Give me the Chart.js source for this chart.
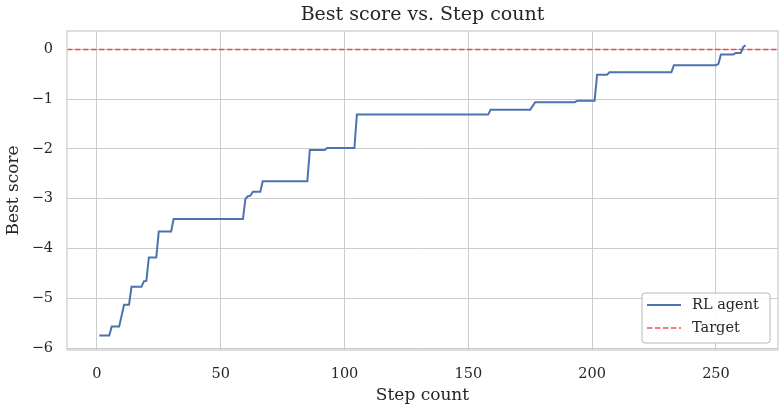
<!DOCTYPE html>
<html>
<head>
<meta charset="utf-8">
<script src="https://cdn.jsdelivr.net/npm/chart.js@4.4.1/dist/chart.umd.min.js"></script>
<style>
  html, body { margin: 0; padding: 0; background: #fff; }
  #wrap { width: 784px; height: 411px; }
</style>
</head>
<body>
<div id="wrap"><canvas id="mainChart" width="784" height="411"></canvas></div>
<script>
// vertices of the best-score curve (step, score)
const steps = [1, 5, 6, 9, 11, 13, 14, 18, 19, 20, 21, 24, 25, 30, 31, 59, 60, 61, 62, 63, 66, 67, 85, 86, 92, 93, 104, 105, 158, 159, 175, 177, 193, 194, 201, 202, 206, 207, 232, 233, 250, 251, 252, 257, 258, 260, 261, 262];
const scores = [-5.75, -5.75, -5.57, -5.57, -5.13, -5.13, -4.77, -4.77, -4.66, -4.65, -4.18, -4.18, -3.66, -3.66, -3.41, -3.41, -3.0, -2.95, -2.94, -2.86, -2.86, -2.65, -2.65, -2.02, -2.02, -1.98, -1.98, -1.31, -1.31, -1.21, -1.21, -1.06, -1.06, -1.03, -1.03, -0.51, -0.51, -0.46, -0.46, -0.32, -0.32, -0.29, -0.1, -0.1, -0.07, -0.07, 0.05, 0.08];
const targetScore = 0;

const xTicks = [0, 50, 100, 150, 200, 250];
const yTicks = [-6, -5, -4, -3, -2, -1, 0];
const xRange = [-12.05, 275.05];
const yRange = [-6.04, 0.37];

const FONT = "'DejaVu Serif', 'Liberation Serif', serif";
const TEXT = "#262626";
const GRID = "#cccccc";

const minus = (v) => String(v).replace("-", "\u2212");

const framePlugin = {
  id: "frame",
  afterDraw(chart) {
    const { ctx, chartArea: a } = chart;
    ctx.save();
    ctx.strokeStyle = GRID;
    ctx.lineWidth = 1.25;
    ctx.strokeRect(a.left, a.top, a.right - a.left, a.bottom - a.top);

    // title
    ctx.fillStyle = TEXT;
    ctx.font = `19px ${FONT}`;
    ctx.textAlign = "center";
    ctx.textBaseline = "middle";
    ctx.fillText("Best score vs. Step count", (a.left + a.right) / 2, 15);

    // legend, lower right
    const w = 128, h = 50;
    const x0 = a.right - 8 - w, y0 = a.bottom - 7 - h;
    ctx.beginPath();
    ctx.roundRect(x0, y0, w, h, 3);
    ctx.fillStyle = "rgba(255,255,255,0.85)";
    ctx.fill();
    ctx.strokeStyle = "#b8b8b8";
    ctx.lineWidth = 1;
    ctx.stroke();

    chart.data.datasets.forEach((ds, i) => {
      const cy = y0 + 12 + i * 23;
      ctx.beginPath();
      ctx.strokeStyle = ds.borderColor;
      ctx.lineWidth = ds.borderWidth;
      ctx.setLineDash(ds.borderDash || []);
      ctx.moveTo(x0 + 5, cy);
      ctx.lineTo(x0 + 39, cy);
      ctx.stroke();
      ctx.setLineDash([]);
      ctx.fillStyle = TEXT;
      ctx.font = `14.5px ${FONT}`;
      ctx.textAlign = "left";
      ctx.textBaseline = "middle";
      ctx.fillText(ds.label, x0 + 50, cy);
    });
    ctx.restore();
  },
};

const ctx = document.getElementById("mainChart").getContext("2d");

new Chart(ctx, {
  type: "line",
  data: {
    datasets: [
      {
        label: "RL agent",
        data: steps.map((s, i) => ({ x: s, y: scores[i] })),
        borderColor: "#4c72b0",
        borderWidth: 2,
        pointRadius: 0,
        tension: 0,
      },
      {
        label: "Target",
        data: [
          { x: xRange[0], y: targetScore },
          { x: xRange[1], y: targetScore },
        ],
        borderColor: "rgba(240, 50, 50, 0.85)",
        borderWidth: 1.5,
        borderDash: [5.5, 2.5],
        pointRadius: 0,
      },
    ],
  },
  options: {
    responsive: false,
    animation: false,
    devicePixelRatio: 1,
    layout: { padding: { top: 31, right: 6, left: 0, bottom: 0 } },
    plugins: {
      legend: { display: false },
      title: { display: false },
      tooltip: { enabled: false },
    },
    scales: {
      x: {
        type: "linear",
        min: xRange[0],
        max: xRange[1],
        afterBuildTicks: (s) => { s.ticks = xTicks.map((v) => ({ value: v })); },
        afterFit: (s) => { s.height = 61; },
        grid: { color: GRID, lineWidth: 1, drawTicks: false },
        border: { display: false },
        ticks: {
          padding: 16,
          color: TEXT,
          font: { family: FONT, size: 14.5 },
          callback: (v) => minus(v),
        },
        title: {
          display: true,
          text: "Step count",
          color: TEXT,
          font: { family: FONT, size: 17 },
          padding: { top: 0, bottom: 5 },
        },
      },
      y: {
        type: "linear",
        min: yRange[0],
        max: yRange[1],
        afterBuildTicks: (s) => { s.ticks = yTicks.map((v) => ({ value: v })); },
        afterFit: (s) => { s.width = 67; },
        grid: { color: GRID, lineWidth: 1, drawTicks: false },
        border: { display: false },
        ticks: {
          padding: 14,
          color: TEXT,
          font: { family: FONT, size: 14.5 },
          callback: (v) => minus(v),
        },
        title: {
          display: true,
          text: "Best score",
          color: TEXT,
          font: { family: FONT, size: 17 },
          padding: { top: 3, bottom: 0 },
        },
      },
    },
  },
  plugins: [framePlugin],
});
</script>
</body>
</html>
